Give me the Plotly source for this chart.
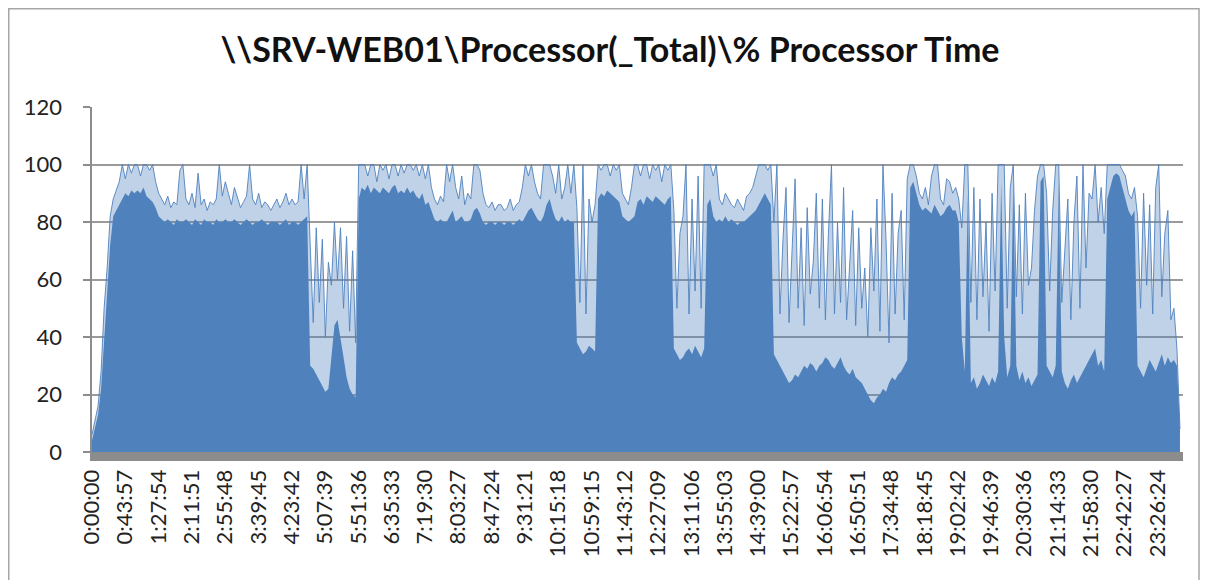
import plotly.graph_objects as go

# x-axis tick labels as printed under the chart (one every 43:57)
tick_labels = ["0:00:00", "0:43:57", "1:27:54", "2:11:51", "2:55:48", "3:39:45",
               "4:23:42", "5:07:39", "5:51:36", "6:35:33", "7:19:30", "8:03:27",
               "8:47:24", "9:31:21", "10:15:18", "10:59:15", "11:43:12", "12:27:09",
               "13:11:06", "13:55:03", "14:39:00", "15:22:57", "16:06:54", "16:50:51",
               "17:34:48", "18:18:45", "19:02:42", "19:46:39", "20:30:36", "21:14:33",
               "21:58:30", "22:42:27", "23:26:24"]
y_ticks = [0, 20, 40, 60, 80, 100, 120]

# sample every 4 minutes over the day (15 samples per hour)
sample_minutes = list(range(0, 1440, 4))

# sustained CPU level (solid part of the area), one row per hour
cpu_floor = [
    4, 8, 13, 22, 40, 55, 72, 82, 84, 86, 88, 90, 89, 91, 90,      # 0h
    91, 90, 92, 89, 88, 87, 85, 82, 81, 80, 81, 80, 79, 81, 80,    # 1h
    80, 81, 80, 79, 81, 80, 79, 81, 80, 80, 79, 81, 80, 80, 81,    # 2h
    80, 80, 81, 80, 79, 80, 81, 80, 79, 80, 80, 81, 80, 79, 80,    # 3h
    80, 80, 79, 80, 81, 79, 80, 80, 79, 80, 81, 82, 30, 29, 27,    # 4h
    25, 23, 21, 22, 33, 44, 46, 40, 33, 26, 22, 20, 19, 88, 92,    # 5h
    91, 93, 90, 92, 91, 90, 92, 91, 90, 92, 93, 90, 91, 90, 92,    # 6h
    90, 91, 89, 88, 90, 86, 87, 84, 81, 80, 81, 80, 80, 82, 84,    # 7h
    80, 81, 82, 80, 80, 81, 84, 85, 83, 80, 79, 80, 80, 79, 80,    # 8h
    80, 79, 80, 80, 79, 80, 81, 80, 82, 84, 85, 83, 81, 80, 82,    # 9h
    86, 88, 84, 81, 80, 82, 80, 81, 80, 80, 38, 36, 34, 35, 37,    # 10h
    36, 35, 88, 90, 89, 91, 90, 89, 88, 87, 82, 81, 80, 81, 82,    # 11h
    87, 88, 86, 89, 88, 87, 89, 88, 87, 86, 88, 89, 36, 34, 32,    # 12h
    33, 35, 36, 34, 37, 35, 33, 36, 86, 88, 82, 80, 81, 80, 82,    # 13h
    80, 81, 80, 79, 80, 80, 81, 82, 83, 84, 86, 88, 90, 88, 86,    # 14h
    34, 32, 30, 28, 26, 24, 25, 27, 26, 28, 30, 29, 31, 30, 28,    # 15h
    30, 31, 33, 32, 30, 29, 31, 33, 30, 28, 27, 29, 26, 25, 24,    # 16h
    22, 20, 18, 17, 19, 20, 22, 21, 24, 26, 25, 27, 28, 30, 32,    # 17h
    92, 94, 90, 86, 84, 85, 84, 83, 86, 84, 82, 83, 85, 86, 84,    # 18h
    84, 80, 40, 28, 90, 24, 26, 22, 24, 27, 25, 23, 26, 24, 28,    # 19h
    94, 40, 26, 30, 94, 30, 25, 28, 24, 26, 23, 25, 27, 94, 96,    # 20h
    30, 28, 26, 30, 94, 28, 24, 22, 25, 27, 24, 26, 28, 30, 32,    # 21h
    34, 36, 30, 32, 28, 88, 92, 96, 97, 96, 92, 88, 84, 82, 84,    # 22h
    30, 28, 26, 29, 32, 30, 28, 31, 34, 30, 33, 31, 32, 30, 8,     # 23h
]

# short peaks reached inside each sample (the spiky, lighter part)
cpu_peak = [
    6, 11, 16, 28, 50, 64, 82, 88, 91, 94, 100, 95, 100, 97, 100,          # 0h
    100, 96, 100, 100, 98, 100, 94, 90, 88, 86, 89, 85, 87, 86, 98,        # 1h
    100, 88, 86, 90, 85, 97, 86, 88, 84, 87, 86, 88, 100, 89, 94,          # 2h
    90, 86, 92, 88, 85, 87, 89, 100, 88, 86, 90, 85, 87, 86, 84,           # 3h
    86, 88, 85, 87, 90, 86, 88, 86, 87, 100, 88, 100, 72, 45, 78,          # 4h
    52, 74, 40, 66, 58, 80, 60, 78, 50, 75, 42, 70, 38, 100, 100,          # 5h
    100, 96, 100, 100, 94, 100, 98, 100, 95, 100, 100, 96, 100, 97, 100,   # 6h
    100, 98, 100, 96, 100, 95, 100, 92, 88, 86, 89, 87, 100, 94, 100,      # 7h
    92, 88, 96, 86, 90, 88, 100, 100, 98, 90, 86, 85, 87, 84, 86,          # 8h
    86, 84, 85, 88, 84, 86, 87, 92, 100, 96, 100, 94, 90, 88, 100,         # 9h
    100, 100, 96, 90, 100, 88, 92, 100, 90, 100, 85, 52, 100, 48, 88,      # 10h
    80, 86, 100, 98, 100, 100, 96, 100, 98, 100, 90, 88, 86, 92, 100,      # 11h
    100, 96, 100, 100, 95, 100, 98, 100, 94, 100, 98, 100, 84, 50, 76,     # 12h
    82, 100, 48, 88, 56, 96, 50, 100, 100, 100, 96, 100, 88, 86, 90,       # 13h
    88, 86, 85, 88, 86, 84, 89, 90, 92, 96, 100, 100, 100, 98, 100,        # 14h
    80, 100, 48, 74, 92, 45, 70, 95, 50, 78, 44, 85, 55, 66, 90,           # 15h
    50, 88, 46, 76, 100, 48, 80, 52, 92, 46, 64, 84, 44, 78, 50,           # 16h
    64, 40, 78, 56, 88, 42, 100, 74, 38, 90, 48, 76, 84, 46, 95,           # 17h
    100, 100, 96, 90, 88, 92, 86, 96, 100, 100, 88, 86, 95, 94, 90,        # 18h
    92, 88, 78, 100, 100, 52, 92, 46, 88, 54, 80, 42, 90, 56, 100,         # 19h
    100, 100, 50, 92, 100, 54, 86, 48, 90, 58, 64, 84, 96, 100, 100,       # 20h
    90, 56, 84, 100, 100, 52, 70, 88, 46, 80, 96, 50, 100, 64, 90,         # 21h
    88, 100, 80, 92, 76, 100, 100, 100, 100, 100, 98, 96, 90, 88, 92,      # 22h
    82, 50, 90, 58, 86, 48, 92, 100, 54, 76, 84, 46, 50, 36, 8,            # 23h
]


def to_minutes(label):
    h, m, s = [int(p) for p in label.split(":")]
    return h * 60 + m + s / 60.0


# the page body adds an 8px offset, so the figure is 8px smaller than the window
W, H = 1204, 572
L, R, T, B = 84, 29, 99, 128
BLUE = "#4F81BD"
FONT = "Lato"
PAD = "\u00a0" * 3

fig = go.Figure()
fig.add_trace(go.Scatter(x=sample_minutes, y=cpu_peak, mode="lines",
                         line=dict(color=BLUE, width=0.9),
                         fill="tozeroy", fillcolor="rgba(79,129,189,0.36)",
                         hoverinfo="skip", showlegend=False))
fig.add_trace(go.Scatter(x=sample_minutes, y=cpu_floor, mode="lines",
                         line=dict(color=BLUE, width=0),
                         fill="tozeroy", fillcolor=BLUE,
                         showlegend=False))

# outer chart frame (pixel positions converted to paper coords)
pw, ph = W - L - R, H - T - B
fig.add_shape(type="rect", xref="paper", yref="paper", layer="below",
              x0=(0.75 - L) / pw, x1=(1191 - L) / pw,
              y0=(H - B - 640) / ph, y1=(H - B - 0.75) / ph,
              line=dict(color="#A6A6A6", width=1.5))

fig.update_layout(
    width=W, height=H,
    margin=dict(l=L, r=R, t=T, b=B, autoexpand=False),
    plot_bgcolor="white", paper_bgcolor="white",
    font=dict(family=FONT, color="#222222"),
    title=dict(text="<b>\\\\SRV-WEB01\\Processor(_Total)\\% Processor Time</b>",
               x=0.5, xanchor="center", y=1 - 42 / H, yanchor="middle",
               yref="container", font=dict(family=FONT, size=34, color="#111111")),
)
fig.update_xaxes(range=[0, 1440], tickmode="array", automargin=False,
                 tickvals=[to_minutes(t) for t in tick_labels], ticktext=tick_labels,
                 tickangle=-90, tickfont=dict(family=FONT, size=22, color="#222222"),
                 ticks="", ticklabelstandoff=0,
                 showgrid=False, zeroline=False,
                 showline=True, linewidth=9, linecolor="#8C8C8C")
fig.update_yaxes(range=[0, 120], tickmode="array", tickvals=y_ticks, automargin=False,
                 ticktext=[f"{v}{PAD}" for v in y_ticks],
                 tickfont=dict(family=FONT, size=22, color="#222222"),
                 ticks="outside", ticklen=7, tickcolor="#8C8C8C", tickwidth=1.5,
                 showgrid=True, gridcolor="#9A9A9A", gridwidth=1.5, zeroline=False,
                 showline=True, linewidth=1.5, linecolor="#8C8C8C")

fig.write_html("out.html")
